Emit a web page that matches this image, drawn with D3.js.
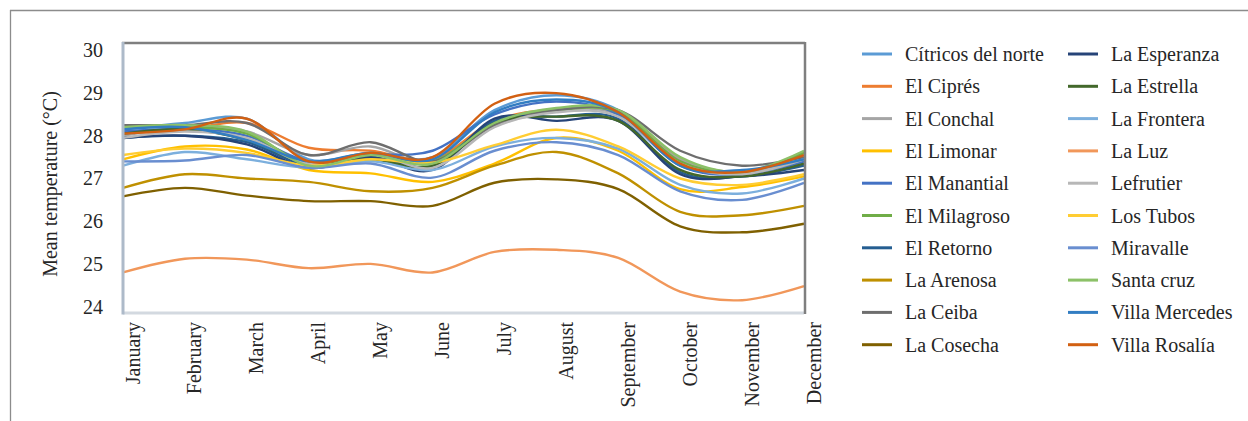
<!DOCTYPE html>
<html>
<head>
<meta charset="utf-8">
<script src="https://cdn.jsdelivr.net/npm/d3@7"></script>
<style>
  html, body { margin: 0; padding: 0; background: #fff; }
  svg { display: block; }
  text { font-family: "Liberation Serif", "Times New Roman", serif; fill: #262626; }
</style>
</head>
<body>
<svg id="chart" width="1248" height="421"></svg>
<script>
// Monthly mean temperature (°C) per farm
const months = ["January","February","March","April","May","June","July","August","September","October","November","December"];
const yTicks = [24, 25, 26, 27, 28, 29, 30];

const seriesNames = [
  "Cítricos del norte","El Ciprés","El Conchal","El Limonar","El Manantial",
  "El Milagroso","El Retorno","La Arenosa","La Ceiba","La Cosecha",
  "La Esperanza","La Estrella","La Frontera","La Luz","Lefrutier",
  "Los Tubos","Miravalle","Santa cruz","Villa Mercedes","Villa Rosalía"
];
const seriesColors = [
  "#5b9bd5","#ed7d31","#a5a5a5","#ffc000","#4472c4",
  "#70ad47","#255e91","#bf9000","#6e6e6e","#7f6000",
  "#264478","#43682b","#7cafdd","#f1975a","#b7b7b7",
  "#ffcd33","#698ed0","#8cc168","#327dc2","#d26012"
];

const citricosDelNorte = [28.15, 28.30, 28.40, 27.45, 27.60, 27.50, 28.60, 28.95, 28.60, 27.40, 27.15, 27.35];
const elCipres         = [28.05, 28.15, 28.30, 27.72, 27.65, 27.45, 28.35, 28.62, 28.55, 27.45, 27.10, 27.60];
const elConchal        = [28.00, 28.20, 28.10, 27.55, 27.75, 27.35, 28.25, 28.60, 28.50, 27.45, 27.15, 27.45];
const elLimonar        = [27.45, 27.75, 27.68, 27.20, 27.12, 26.92, 27.35, 27.95, 27.65, 26.75, 26.80, 27.05];
const elManantial      = [28.10, 28.15, 28.00, 27.40, 27.55, 27.65, 28.50, 28.80, 28.50, 27.30, 27.10, 27.40];
const elMilagroso      = [28.20, 28.20, 28.05, 27.35, 27.60, 27.40, 28.30, 28.60, 28.55, 27.40, 27.15, 27.60];
const elRetorno        = [27.95, 28.00, 27.85, 27.30, 27.50, 27.30, 28.35, 28.45, 28.40, 27.15, 27.05, 27.30];
const laArenosa        = [26.78, 27.10, 27.00, 26.92, 26.70, 26.78, 27.30, 27.62, 27.12, 26.22, 26.14, 26.36];
const laCeiba          = [28.25, 28.25, 28.30, 27.55, 27.85, 27.40, 28.25, 28.60, 28.60, 27.65, 27.30, 27.50];
const laCosecha        = [26.58, 26.78, 26.60, 26.47, 26.47, 26.36, 26.90, 26.98, 26.75, 25.88, 25.74, 25.94];
const laEsperanza      = [27.95, 28.00, 27.80, 27.25, 27.50, 27.20, 28.40, 28.35, 28.35, 27.10, 27.05, 27.20];
const laEstrella       = [28.05, 28.15, 27.90, 27.35, 27.45, 27.30, 28.30, 28.45, 28.35, 27.20, 27.05, 27.35];
const laFrontera       = [27.30, 27.62, 27.45, 27.25, 27.40, 27.20, 27.75, 27.95, 27.70, 26.85, 26.65, 27.00];
const laLuz            = [24.80, 25.12, 25.10, 24.90, 25.00, 24.80, 25.28, 25.33, 25.14, 24.35, 24.15, 24.48];
const lefrutier        = [27.95, 28.10, 27.95, 27.35, 27.60, 27.25, 28.20, 28.55, 28.45, 27.35, 27.10, 27.45];
const losTubos         = [27.55, 27.70, 27.60, 27.30, 27.45, 27.37, 27.78, 28.14, 27.75, 27.00, 26.85, 27.10];
const miravalle        = [27.40, 27.42, 27.55, 27.25, 27.35, 27.02, 27.65, 27.85, 27.55, 26.70, 26.50, 26.90];
const santaCruz        = [28.20, 28.25, 28.10, 27.30, 27.55, 27.35, 28.30, 28.65, 28.60, 27.50, 27.15, 27.65];
const villaMercedes    = [28.15, 28.20, 27.90, 27.40, 27.60, 27.45, 28.55, 28.85, 28.55, 27.30, 27.20, 27.45];
const villaRosalia     = [28.05, 28.15, 28.40, 27.40, 27.60, 27.50, 28.75, 29.00, 28.55, 27.35, 27.15, 27.55];

const seriesValues = [
  citricosDelNorte, elCipres, elConchal, elLimonar, elManantial,
  elMilagroso, elRetorno, laArenosa, laCeiba, laCosecha,
  laEsperanza, laEstrella, laFrontera, laLuz, lefrutier,
  losTubos, miravalle, santaCruz, villaMercedes, villaRosalia
];

const series = seriesNames.map((name, i) => ({ name, color: seriesColors[i], values: seriesValues[i] }));

const svg = d3.select("#chart");

// outer chart frame (top and left edges visible)
svg.append("line").attr("x1", 10).attr("y1", 10.5).attr("x2", 1248).attr("y2", 10.5)
  .attr("stroke", "#8c8c8c").attr("stroke-width", 1.3);
svg.append("line").attr("x1", 10.5).attr("y1", 10).attr("x2", 10.5).attr("y2", 421)
  .attr("stroke", "#8c8c8c").attr("stroke-width", 1.3);

const plot = { left: 123, right: 804, top: 44, bottom: 313 };

const x = d3.scalePoint().domain(months).range([plot.left, plot.right]);
const y = d3.scaleLinear().domain([23.85, 30.15]).range([plot.bottom, plot.top]);

// y axis labels
const yAxis = svg.append("g")
  .attr("transform", `translate(${plot.left},0)`)
  .call(d3.axisLeft(y).tickValues(yTicks).tickSize(0).tickPadding(20).tickFormat(d3.format("d")));
yAxis.select(".domain").remove();
yAxis.selectAll("text")
  .style("font-family", '"Liberation Serif", "Times New Roman", serif')
  .style("font-size", "20px").attr("fill", "#262626");

// x axis labels (rotated)
const xAxis = svg.append("g")
  .attr("transform", `translate(0,${plot.bottom})`)
  .call(d3.axisBottom(x).tickSize(0).tickPadding(0));
xAxis.select(".domain").remove();
xAxis.selectAll(".tick text")
  .style("font-family", '"Liberation Serif", "Times New Roman", serif')
  .style("font-size", "20px").attr("fill", "#262626")
  .attr("text-anchor", "end")
  .attr("y", 0).attr("dy", "0.35em")
  .attr("transform", "translate(9,9) rotate(-90)");

// y axis title
svg.append("text")
  .attr("transform", "translate(50,184) rotate(-90)")
  .attr("text-anchor", "middle").attr("dy", "0.35em")
  .style("font-size", "20px")
  .text("Mean temperature (°C)");

// smoothed series lines
const line = d3.line()
  .x((d, i) => x(months[i]))
  .y(d => y(d))
  .curve(d3.curveCardinal.tension(0));

svg.append("g").selectAll("path")
  .data(series)
  .join("path")
  .attr("d", d => line(d.values))
  .attr("fill", "none")
  .attr("stroke", d => d.color)
  .attr("stroke-width", 2.4)
  .attr("stroke-linejoin", "round");

// plot area border
svg.append("line").attr("x1", plot.left).attr("x2", plot.right).attr("y1", plot.bottom).attr("y2", plot.bottom)
  .attr("stroke", "#d3d9e0").attr("stroke-width", 3);
svg.append("line").attr("x1", plot.left - 1).attr("x2", plot.right + 1).attr("y1", plot.top - 1).attr("y2", plot.top - 1)
  .attr("stroke", "#7f7f7f").attr("stroke-width", 2.5);
svg.append("line").attr("x1", plot.right + 1).attr("x2", plot.right + 1).attr("y1", plot.top - 2).attr("y2", plot.bottom + 1)
  .attr("stroke", "#7f7f7f").attr("stroke-width", 2.5);
svg.append("line").attr("x1", plot.left).attr("x2", plot.left).attr("y1", plot.top - 2).attr("y2", plot.bottom + 1.5)
  .attr("stroke", "#adbac9").attr("stroke-width", 3);

// legend: two columns of ten
const legend = svg.append("g");
const rowH = 32.3;
const items = legend.selectAll("g")
  .data(series)
  .join("g")
  .attr("transform", (d, i) => `translate(${i < 10 ? 862 : 1068},${54 + (i % 10) * rowH})`);
items.append("line")
  .attr("x1", 0).attr("x2", 30).attr("y1", 0).attr("y2", 0)
  .attr("stroke", d => d.color).attr("stroke-width", 3);
items.append("text")
  .attr("x", 43).attr("dy", "0.35em")
  .style("font-size", "20px")
  .text(d => d.name);
</script>
</body>
</html>
